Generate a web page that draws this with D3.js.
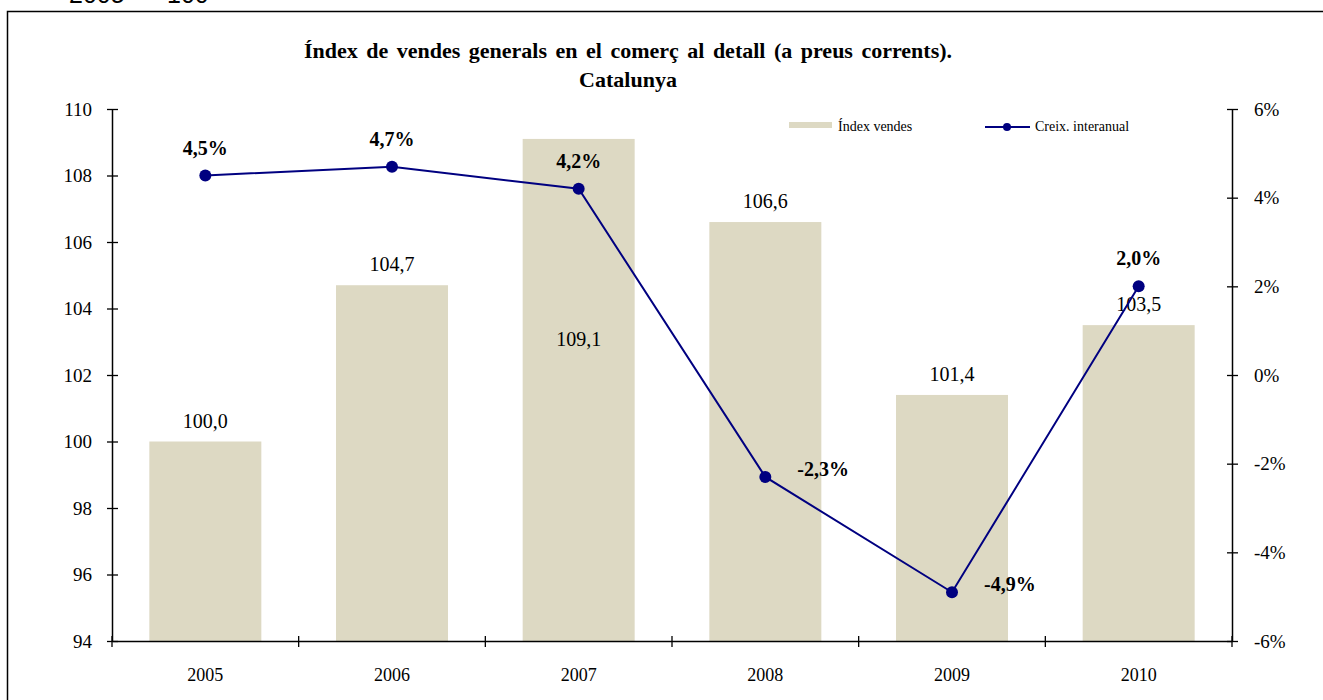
<html>
<head>
<script src="https://d3js.org/d3.v7.min.js"></script>
<style>
  body { margin: 0; background: #fff; }
  text { font-family: "Liberation Serif", "Times New Roman", serif; fill: #000; }
</style>
</head>
<body>
<svg id="vis"></svg>
<script>
  // data
  const years = ['2005', '2006', '2007', '2008', '2009', '2010'];
  const indexValues = [100.0, 104.7, 109.1, 106.6, 101.4, 103.5];
  const growthValues = [4.5, 4.7, 4.2, -2.3, -4.9, 2.0];
  const leftTicks = [94, 96, 98, 100, 102, 104, 106, 108, 110];
  const rightTicks = [-6, -4, -2, 0, 2, 4, 6];

  const width = 1323;
  const height = 700;
  const plotLeft = 112, plotRight = 1232, plotTop = 109, plotBottom = 641;

  const svg = d3.select('#vis')
    .attr('width', width)
    .attr('height', height);

  const fmt = d3.format('.1f');
  // catalan style: decimal comma, plain hyphen for negatives
  const comma = v => fmt(v).replace('.', ',').replace('\u2212', '-');

  // header text cut off at the top
  svg.append('text')
    .attr('x', 69).attr('y', 3)
    .style('font-family', '"Liberation Sans", Arial, sans-serif')
    .style('font-size', '25px')
    .attr('xml:space', 'preserve')
    .text('2005  =  100');

  // outer frame
  svg.append('rect')
    .attr('x', 7.5).attr('y', 11.5)
    .attr('width', 1330).attr('height', 720)
    .attr('fill', 'none')
    .attr('stroke', '#000')
    .attr('stroke-width', 1.5);

  const x = d3.scaleBand()
    .domain(years)
    .range([plotLeft, plotRight])
    .paddingInner(0.4)
    .paddingOuter(0.2);

  const xTick = d3.scaleBand().domain(years).range([plotLeft, plotRight]);

  const yLeft = d3.scaleLinear().domain([94, 110]).range([plotBottom, plotTop]);
  const yRight = d3.scaleLinear().domain([-6, 6]).range([plotBottom, plotTop]);

  // bars
  svg.selectAll('rect.bar')
    .data(indexValues)
    .enter().append('rect')
    .attr('class', 'bar')
    .attr('x', (d, i) => x(years[i]))
    .attr('y', d => yLeft(d))
    .attr('width', x.bandwidth())
    .attr('height', d => plotBottom - yLeft(d))
    .attr('fill', '#ddd9c3');

  // bar labels (the tallest one sits inside the bar)
  svg.selectAll('text.barlabel')
    .data(indexValues)
    .enter().append('text')
    .attr('class', 'barlabel')
    .attr('x', (d, i) => x(years[i]) + x.bandwidth() / 2)
    .attr('y', d => d > 108.5 ? yLeft(d) + 207 : yLeft(d) - 14)
    .attr('text-anchor', 'middle')
    .style('font-size', '20px')
    .text(d => comma(d));

  // axes
  const axisLeft = d3.axisLeft(yLeft)
    .tickValues(leftTicks)
    .tickSize(0)
    .tickPadding(20);
  const gl = svg.append('g')
    .attr('transform', `translate(${plotLeft},0)`)
    .call(axisLeft);

  const axisRight = d3.axisRight(yRight)
    .tickValues(rightTicks)
    .tickSize(0)
    .tickPadding(22)
    .tickFormat(d => d + '%');
  const gr = svg.append('g')
    .attr('transform', `translate(${plotRight},0)`)
    .call(axisRight);

  const axisBottom = d3.axisBottom(xTick)
    .tickSize(0)
    .tickPadding(27);
  const gb = svg.append('g')
    .attr('transform', `translate(0,${plotBottom})`)
    .call(axisBottom);

  [gl, gr, gb].forEach(g => {
    g.select('.domain').attr('stroke', '#000').attr('stroke-width', 1.5);
    g.selectAll('text')
      .style('font-family', '"Liberation Serif", "Times New Roman", serif')
      .style('font-size', '19px')
      .attr('fill', '#000');
  });
  gb.selectAll('text').style('font-size', '18px');

  // cross ticks
  gl.selectAll('.tick').append('line')
    .attr('x1', -5).attr('x2', 6).attr('stroke', '#000').attr('stroke-width', 1.3);
  gr.selectAll('.tick').append('line')
    .attr('x1', -5).attr('x2', 6).attr('stroke', '#000').attr('stroke-width', 1.3);
  const catEdges = years.map(d => xTick(d)).concat([plotRight]);
  svg.selectAll('line.xtick')
    .data(catEdges)
    .enter().append('line')
    .attr('class', 'xtick')
    .attr('x1', d => d).attr('x2', d => d)
    .attr('y1', plotBottom - 5).attr('y2', plotBottom + 6)
    .attr('stroke', '#000').attr('stroke-width', 1.3);

  // growth line
  const cx = i => xTick(years[i]) + xTick.bandwidth() / 2;
  const line = d3.line()
    .x((d, i) => cx(i))
    .y(d => yRight(d));

  svg.append('path')
    .datum(growthValues)
    .attr('d', line)
    .attr('fill', 'none')
    .attr('stroke', '#000080')
    .attr('stroke-width', 2);

  svg.selectAll('circle.pt')
    .data(growthValues)
    .enter().append('circle')
    .attr('class', 'pt')
    .attr('cx', (d, i) => cx(i))
    .attr('cy', d => yRight(d))
    .attr('r', 6)
    .attr('fill', '#000080');

  svg.selectAll('text.ptlabel')
    .data(growthValues)
    .enter().append('text')
    .attr('class', 'ptlabel')
    .attr('x', (d, i) => d < 0 ? cx(i) + 32 : cx(i))
    .attr('y', d => d < 0 ? yRight(d) - 1 : yRight(d) - 21)
    .attr('text-anchor', d => d < 0 ? 'start' : 'middle')
    .style('font-size', '20px')
    .style('font-weight', 'bold')
    .text(d => comma(d) + '%');

  // title
  const title = svg.append('text')
    .attr('x', 628)
    .attr('text-anchor', 'middle')
    .style('font-size', '22px')
    .style('font-weight', 'bold')
    .style('word-spacing', '3px');
  title.append('tspan').attr('x', 628).attr('y', 58)
    .text('Índex de vendes generals en el comerç al detall (a preus corrents).');
  title.append('tspan').attr('x', 628).attr('y', 87)
    .text('Catalunya');

  // legend
  svg.append('rect')
    .attr('x', 789).attr('y', 122)
    .attr('width', 43).attr('height', 6)
    .attr('fill', '#ddd9c3');
  svg.append('text')
    .attr('x', 838).attr('y', 131)
    .style('font-size', '14px')
    .text('Índex vendes');
  svg.append('line')
    .attr('x1', 985).attr('x2', 1030)
    .attr('y1', 127).attr('y2', 127)
    .attr('stroke', '#000080').attr('stroke-width', 2);
  svg.append('circle')
    .attr('cx', 1007).attr('cy', 127).attr('r', 4)
    .attr('fill', '#000080');
  svg.append('text')
    .attr('x', 1035).attr('y', 131)
    .style('font-size', '14px')
    .text('Creix. interanual');
</script>
</body>
</html>
